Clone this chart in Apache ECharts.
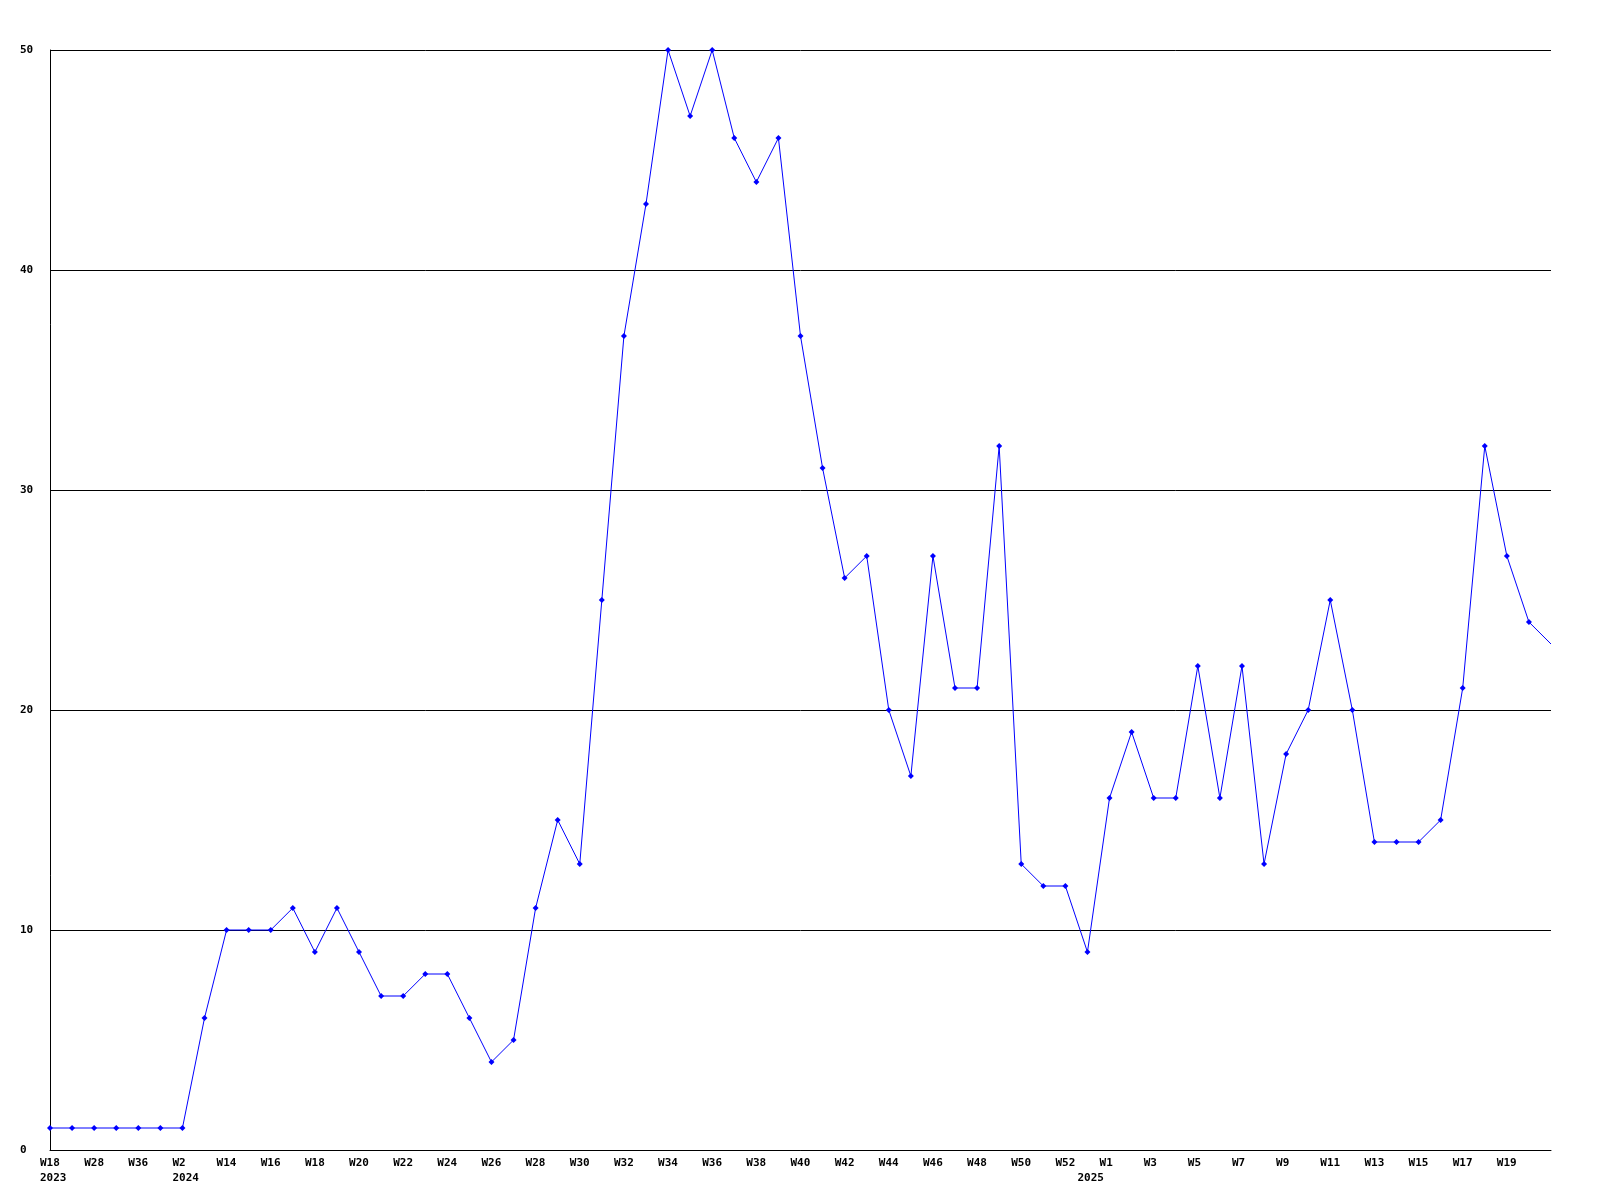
<!DOCTYPE html>
<html>
<head>
<meta charset="utf-8">
<script src="https://cdn.jsdelivr.net/npm/echarts@6/dist/echarts.min.js"></script>
<style>
html,body{margin:0;padding:0;background:#fff;}
#chart{width:1600px;height:1200px;}
</style>
</head>
<body>
<div id="chart"></div>
<script>
var weekLabels = ['W18','W22','W28','W32','W36','W44','W2','W8','W14','W15','W16','W17','W18','W19','W20','W21','W22','W23','W24','W25','W26','W27','W28','W29','W30','W31','W32','W33','W34','W35','W36','W37','W38','W39','W40','W41','W42','W43','W44','W45','W46','W47','W48','W49','W50','W51','W52','W53','W1','W2','W3','W4','W5','W6','W7','W8','W9','W10','W11','W12','W13','W14','W15','W16','W17','W18','W19','W20','W21'];
var yearLabels = ['2023','','','','','','2024','','','','','','','','','','','','','','','','','','','','','','','','','','','','','','','','','','','','','','','','','2025','','','','','','','','','','','','','','','','','','','','',''];
var values = [1,1,1,1,1,1,1,6,10,10,10,11,9,11,9,7,7,8,8,6,4,5,11,15,13,25,37,43,50,47,50,46,44,46,37,31,26,27,20,17,27,21,21,32,13,12,12,9,16,19,16,16,22,16,22,13,18,20,25,20,14,14,14,15,21,32,27,24,23];
var yTicks = [0,10,20,30,40,50];

var categories = weekLabels.map(function(w,i){ return i + ':' + w; });
var lastIdx = values.length - 1;

var font = 'DejaVu Sans Mono';
var chart = echarts.init(document.getElementById('chart'), null, {renderer:'canvas'});
chart.setOption({
  backgroundColor: '#ffffff',
  animation: false,
  grid: {left: 50, right: 49, top: 50, bottom: 50, containLabel: false},
  xAxis: {
    type: 'category',
    data: categories,
    boundaryGap: false,
    axisLine: {show: true, lineStyle: {color: '#000', width: 1}},
    axisTick: {show: false},
    splitLine: {show: false},
    axisLabel: {
      interval: function(i){ return (i % 2 === 0 && i < lastIdx) || yearLabels[i] !== ''; },
      margin: 6,
      align: 'center',
      verticalAlign: 'top',
      formatter: function(val, i){
        var w = (i % 2 === 0) ? weekLabels[i] : ' ';
        var y = yearLabels[i];
        return y ? '{a|' + w + '}\n{a|' + y + '}' : '{a|' + w + '}';
      },
      rich: {
        a: {width: 20, align: 'left', fontFamily: font, fontWeight: 'bold', fontSize: 11, color: '#000', lineHeight: 15}
      }
    }
  },
  yAxis: {
    type: 'value',
    min: yTicks[0],
    max: yTicks[yTicks.length-1],
    interval: 10,
    axisLine: {show: true, lineStyle: {color: '#000', width: 1}},
    axisTick: {show: false},
    splitLine: {show: true, lineStyle: {color: '#000', width: 1}},
    axisLabel: {
      margin: 30,
      align: 'left',
      fontFamily: font,
      fontWeight: 'bold',
      fontSize: 11,
      color: '#000'
    }
  },
  series: [{
    type: 'line',
    data: values,
    symbol: function(v, params){ return params.dataIndex === lastIdx ? 'none' : 'diamond'; },
    symbolSize: 6,
    showSymbol: true,
    lineStyle: {color: '#0000ff', width: 1},
    itemStyle: {color: '#0000ff'},
    clip: true
  }]
});
</script>
</body>
</html>
